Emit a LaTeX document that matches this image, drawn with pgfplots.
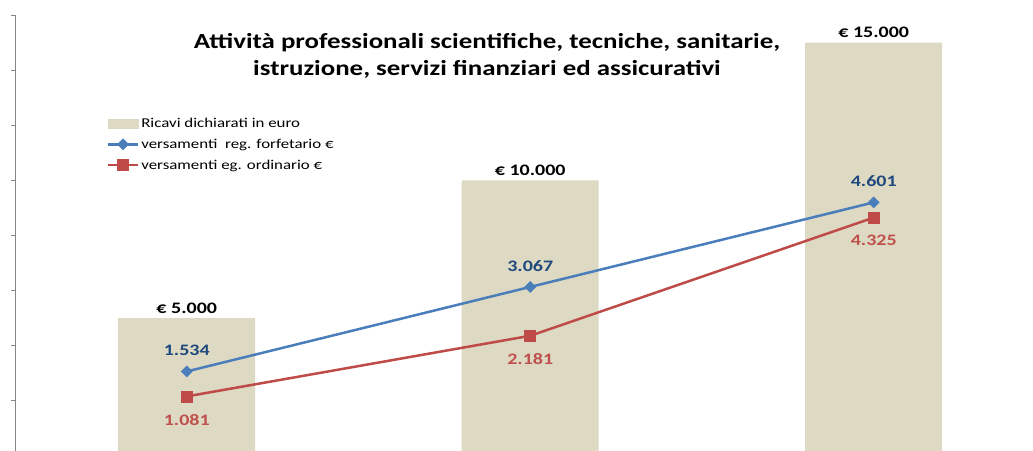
\documentclass[border=0pt]{standalone}
\usepackage{fontspec}
\setmainfont{Carlito}
\usepackage{graphicx}
\usepackage{pgfplots}
\pgfplotsset{compat=1.18}
\usepackage{pgfplotstable}
\definecolor{bartan}{HTML}{DDD9C3}
\definecolor{blueline}{HTML}{4A7EBB}
\definecolor{redline}{HTML}{BE4B48}
\definecolor{bluelabel}{HTML}{1F497D}
\definecolor{redlabel}{HTML}{C0504D}
\definecolor{axisgray}{HTML}{868686}
\newcommand{\wide}[1]{\scalebox{1.25}[1]{#1}}
\pgfplotstableread{
x ricavi forf ord
0 5000 1534 1081
1 10000 3067 2181
2 15000 4601 4325
}\data
\begin{document}
\begin{tikzpicture}
\path[use as bounding box] (0pt,0pt) rectangle (1033pt,450pt);
\clip (0pt,0pt) rectangle (1033pt,450pt);
\begin{axis}[
  at={(15pt,-6pt)}, anchor=south west, scale only axis,
  width=1030.5pt, height=441pt,
  xmin=-0.5, xmax=2.5, ymin=0, ymax=16000,
  axis x line=none, axis y line*=left,
  ytick={0,2000,...,16000}, yticklabels={}, scaled y ticks=false,
  y axis line style={draw=axisgray, line width=1pt, -},
  ytick style={draw=axisgray, line width=0.8pt},
  tick align=outside, major tick length=4pt,
  clip=false,
  ybar, bar width=137pt,
  nodes near coords={\wide{€ \pgfmathprintnumber{\pgfplotspointmeta}}},
  every node near coord/.append style={font=\bfseries\fontsize{16}{18}\selectfont, text=black, yshift=1pt},
  /pgf/number format/.cd, fixed, precision=0, 1000 sep={.}, assume math mode=true,
]
\addplot[fill=bartan, draw=none] table[x=x,y=ricavi]{\data};
\end{axis}
\begin{axis}[
  at={(15pt,-6pt)}, anchor=south west, scale only axis,
  width=1030.5pt, height=441pt,
  xmin=-0.5, xmax=2.5, ymin=0, ymax=8000,
  hide axis, clip=false,
  legend image code/.code={\draw[mark repeat=2,mark phase=2,#1] plot coordinates {(0pt,0pt) (15pt,0pt) (30pt,0pt)};},
  legend style={at={(axis description cs:0.086,0.776)}, anchor=north west, draw=none, fill=none,
    font=\fontsize{13.5}{15}\selectfont, row sep=6pt},
  legend cell align=left,
  /pgf/number format/.cd, fixed, precision=0, 1000 sep={.}, assume math mode=true,
]
\addlegendimage{legend image code/.code={\fill[bartan] (0pt,-4.5pt) rectangle (30pt,4.5pt);}}
\addlegendentry{\wide{Ricavi dichiarati in euro}}
\addplot[color=blueline, line width=2.5pt, mark=square*, mark size=3.9pt,
  mark options={solid, line width=0.5pt, rotate=45},
  nodes near coords={\wide{\pgfmathprintnumber{\pgfplotspointmeta}}},
  every node near coord/.append style={anchor=south, text=bluelabel, font=\bfseries\fontsize{16}{18}\selectfont, yshift=12pt}]
  table[x=x,y=forf]{\data};
\addlegendentry{\wide{versamenti\ \ reg. forfetario €}}
\addplot[color=redline, line width=2.5pt, mark=square*, mark size=5.5pt,
  mark options={solid, line width=0.5pt},
  nodes near coords={\wide{\pgfmathprintnumber{\pgfplotspointmeta}}},
  every node near coord/.append style={anchor=north, text=redlabel, font=\bfseries\fontsize{16}{18}\selectfont, yshift=-14pt}]
  table[x=x,y=ord]{\data};
\addlegendentry{\wide{versamenti eg. ordinario €}}
\end{axis}
\node[font=\bfseries\fontsize{21.5}{27}\selectfont, align=center] at (487pt,394pt)
  {\wide{Attività professionali scientifiche, tecniche, sanitarie,}\\\wide{istruzione, servizi finanziari ed assicurativi}};
\end{tikzpicture}
\end{document}
